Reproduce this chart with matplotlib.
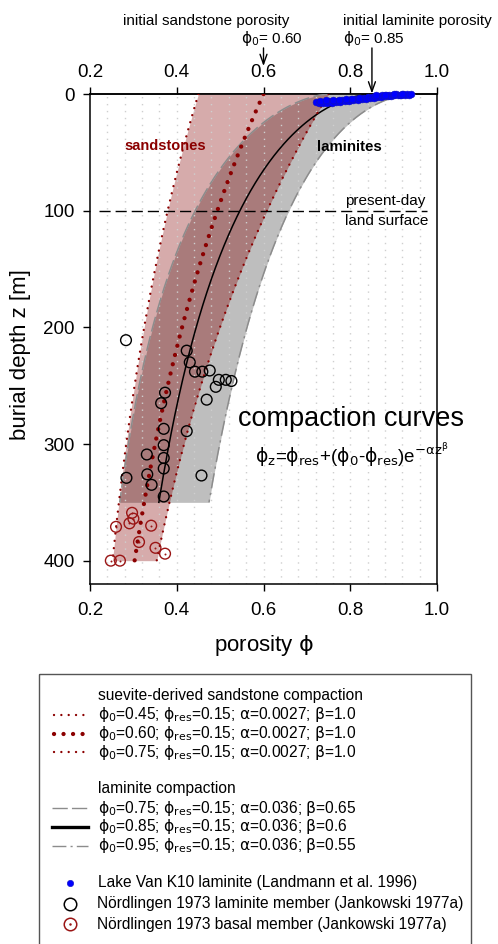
import numpy as np
import matplotlib
matplotlib.use('Agg')
import matplotlib.pyplot as plt
from matplotlib.lines import Line2D
from matplotlib.patches import Rectangle

plt.rcParams['font.family'] = ['Liberation Sans', 'DejaVu Sans']
plt.rcParams['mathtext.fontset'] = 'dejavusans'

# ---------------- data ----------------
# sandstone compaction curves
sand_phi0 = [0.45, 0.60, 0.75]
sand_phires = 0.15
sand_alpha = 0.0027
sand_beta = 1.0
sand_zmax = 400

# laminite compaction curves
lam_phi0 = [0.75, 0.85, 0.95]
lam_phires = 0.15
lam_alpha = 0.036
lam_beta = [0.65, 0.6, 0.55]
lam_zmax = 350

# Lake Van K10 laminite (Landmann et al. 1996)
van_phi = [0.722, 0.728, 0.733, 0.738, 0.742, 0.747, 0.752, 0.757, 0.762, 0.767,
           0.772, 0.777, 0.782, 0.787, 0.792, 0.797, 0.802, 0.807, 0.812, 0.817,
           0.822, 0.827, 0.832, 0.837, 0.842, 0.846, 0.850, 0.854, 0.858, 0.862,
           0.866, 0.870, 0.874, 0.878, 0.882, 0.886, 0.890, 0.894, 0.898, 0.902,
           0.906, 0.910, 0.914, 0.918, 0.922, 0.926, 0.930, 0.935, 0.940,
           0.730, 0.745, 0.760, 0.775, 0.790, 0.805, 0.820, 0.860, 0.880, 0.900, 0.920]
van_z = [7.0, 8.0, 6.5, 7.8, 6.8, 7.5, 6.2, 7.3, 6.0, 7.0,
         5.8, 6.6, 5.5, 6.3, 5.0, 5.8, 4.6, 5.4, 4.2, 5.0,
         3.8, 4.6, 3.4, 4.0, 2.8, 3.6, 2.4, 3.0, 1.8, 2.6,
         1.5, 2.2, 1.0, 1.9, 0.8, 1.6, 0.5, 1.4, 0.6, 1.2,
         0.3, 1.1, 0.5, 1.0, 0.2, 0.9, 0.4, 0.7, 0.3,
         5.6, 5.4, 5.0, 4.8, 4.4, 4.0, 3.2, 1.2, 0.6, 0.4, 0.1]

# Nördlingen 1973 laminite member (Jankowski 1977a)
nlam_phi = [0.283, 0.423, 0.430, 0.442, 0.459, 0.476, 0.497, 0.490, 0.513, 0.526,
            0.469, 0.373, 0.364, 0.370, 0.423, 0.331, 0.370, 0.370, 0.370, 0.284,
            0.332, 0.342, 0.457, 0.370]
nlam_z = [211, 220, 230, 238, 238, 237, 245, 251, 245, 246,
          262, 256, 265, 287, 289, 309, 301, 312, 321, 329,
          326, 335, 327, 345]

# Nördlingen 1973 basal member (Jankowski 1977a)
nbas_phi = [0.297, 0.300, 0.291, 0.260, 0.341, 0.313, 0.351, 0.373, 0.248, 0.269]
nbas_z = [359, 364, 368, 371, 370, 384, 389, 394, 400, 400]

xticks = [0.2, 0.4, 0.6, 0.8, 1.0]
yticks = [0, 100, 200, 300, 400]
present_day_z = 100

# ---------------- colors ----------------
DARKRED = '#8b0000'
RINGRED = '#9a1515'
PINK = '#d6abab'
GRAY = '#bebebe'
OVERLAP = '#a97b7b'
EDGEGRAY = '#8c8c8c'

W, H = 498, 944
fig = plt.figure(figsize=(W / 100, H / 100), dpi=100)
ax = fig.add_axes([90 / W, 1 - 584 / H, (437 - 90) / W, (584 - 94) / H])

zs = np.linspace(0, sand_zmax, 401)
zl = np.linspace(0, lam_zmax, 351)

def sand(p0, z):
    return sand_phires + (p0 - sand_phires) * np.exp(-sand_alpha * z ** sand_beta)

def lam(p0, b, z):
    return lam_phires + (p0 - lam_phires) * np.exp(-lam_alpha * z ** b)

s_curves = [sand(p, zs) for p in sand_phi0]
l_curves = [lam(p, b, zl) for p, b in zip(lam_phi0, lam_beta)]

# bands
ax.fill_betweenx(zs, s_curves[0], s_curves[2], color=PINK, lw=0, zorder=1)
ax.fill_betweenx(zl, l_curves[0], l_curves[2], color=GRAY, lw=0, zorder=1)
s_lo = sand(sand_phi0[0], zl)
s_hi = sand(sand_phi0[2], zl)
ov_lo = np.maximum(s_lo, l_curves[0])
ov_hi = np.minimum(s_hi, l_curves[2])
ax.fill_betweenx(zl, ov_lo, ov_hi, where=ov_lo < ov_hi, interpolate=True,
                 color=OVERLAP, lw=0, zorder=1.1)

# dotted grid
for gx in np.arange(0.24, 0.99, 0.04):
    ax.axvline(gx, color='#cfcfcf', lw=1.0, ls=(0, (1, 4)), zorder=2)

# laminite curves
ax.plot(l_curves[0], zl, color=EDGEGRAY, lw=1.1, ls=(0, (10, 3)), zorder=3)
ax.plot(l_curves[1], zl, color='black', lw=1.1, zorder=3)
ax.plot(l_curves[2], zl, color=EDGEGRAY, lw=1.1, ls=(0, (10, 3, 1.5, 3)), zorder=3)

# sandstone curves
ax.plot(s_curves[0], zs, color=DARKRED, lw=1.7, ls=(0, (0.01, 3.1)),
        dash_capstyle='round', zorder=3.2)
ax.plot(s_curves[1], zs, color=DARKRED, lw=3.1, ls=(0, (0.01, 2.2)),
        dash_capstyle='round', zorder=3.2)
ax.plot(s_curves[2], zs, color=DARKRED, lw=1.7, ls=(0, (0.01, 3.1)),
        dash_capstyle='round', zorder=3.2)

# present-day land surface
ax.plot([0.22, 0.977], [present_day_z, present_day_z], color='black', lw=1.0,
        ls=(0, (8, 3.6)), zorder=3.3)

# data points
ax.scatter(nlam_phi, nlam_z, s=60, facecolors='none', edgecolors='black', lw=1.0, zorder=5)
ax.scatter(nbas_phi, nbas_z, s=60, facecolors='none', edgecolors=RINGRED, lw=1.0, zorder=5)
ax.scatter(nbas_phi, nbas_z, s=2, color=RINGRED, lw=0, zorder=5)
ax.scatter(van_phi, van_z, s=24, color='#0000ff', edgecolors='#1010c0', lw=0.4, zorder=6,
           clip_on=False)

ax.set_xlim(0.2, 1.0)
ax.set_ylim(420, 0)
ax.set_xticks(xticks)
ax.set_xticklabels(['%.1f' % v for v in xticks])
ax.set_yticks(yticks)
ax.tick_params(axis='x', top=False, labeltop=False, bottom=True, labelbottom=True,
               direction='out', length=5, width=1.0, labelsize=13.5, pad=8)
ax.tick_params(axis='y', direction='out', length=5, width=1.0, labelsize=13.5, pad=6)
sec = ax.secondary_xaxis('top')
sec.set_xticks(xticks)
sec.set_xticklabels(['%.1f' % v for v in xticks])
sec.tick_params(direction='out', length=5, width=1.0, labelsize=13.5, pad=4)
sec.spines['top'].set_linewidth(1.1)
for sp in ax.spines.values():
    sp.set_linewidth(1.1)

# texts inside plot
ax.text(0.373, 44.5, 'sandstones', color=DARKRED, fontsize=10.5, fontweight='bold',
        ha='center', va='center', zorder=7)
ax.text(0.799, 45.3, 'laminites', color='black', fontsize=10.8, fontweight='bold',
        ha='center', va='center', zorder=7)
ax.text(0.789, 95.5, 'present-day', fontsize=11, ha='left', va='baseline', zorder=7)
ax.text(0.789, 112, 'land surface', fontsize=11, ha='left', va='baseline', zorder=7)
ax.text(0.541, 284.5, 'compaction curves', fontsize=19.5, ha='left', va='baseline', zorder=7)
ax.text(0.580, 316,
        r'$\mathrm{\phi_z}$=$\mathrm{\phi_{res}}$+($\mathrm{\phi_0}$-$\mathrm{\phi_{res}}$)e$^{\mathrm{-\alpha z^{\beta}}}$',
        fontsize=13.5, ha='left', va='baseline', zorder=7)

# arrows to top axis
xt = ax.get_xaxis_transform()
ax.annotate('', xy=(0.60, 1.057), xytext=(0.60, 1.094), xycoords=xt, textcoords=xt,
            arrowprops=dict(arrowstyle='->,head_length=0.7,head_width=0.25', lw=1.0,
                            color='black', shrinkA=0, shrinkB=0), annotation_clip=False)
ax.annotate('', xy=(0.85, 1.001), xytext=(0.85, 1.094), xycoords=xt, textcoords=xt,
            arrowprops=dict(arrowstyle='->,head_length=0.7,head_width=0.25', lw=1.0,
                            color='black', shrinkA=0, shrinkB=0), annotation_clip=False)

# overlay for outside texts & legend (pixel coordinates)
lax = fig.add_axes([0, 0, 1, 1], zorder=10)
lax.set_xlim(0, W)
lax.set_ylim(H, 0)
lax.axis('off')
lax.patch.set_alpha(0)

lax.text(123, 24.5, 'initial sandstone porosity', fontsize=11, ha='left', va='baseline')
lax.text(241, 42.5, r'$\mathrm{\phi_0}$= 0.60', fontsize=11, ha='left', va='baseline')
lax.text(343, 24.5, 'initial laminite porosity', fontsize=11, ha='left', va='baseline')
lax.text(343, 42.5, r'$\mathrm{\phi_0}$= 0.85', fontsize=11, ha='left', va='baseline')

lax.text(263.5, 651, r'porosity $\mathrm{\phi}$', fontsize=16, ha='center', va='baseline')
lax.text(21, 355, 'burial depth z [m]', fontsize=16, ha='center', va='center', rotation=90)

# legend
lax.add_patch(Rectangle((39, 674), 431.5, 290, fill=False, ec='#555555', lw=1.0))
LFS = 11.2
lax.text(97.7, 695.7, 'suevite-derived sandstone compaction', fontsize=LFS, ha='left', va='center')
sand_labels = [r'$\mathrm{\phi_0}$=%.2f; $\mathrm{\phi_{res}}$=%.2f; $\mathrm{\alpha}$=%s; $\mathrm{\beta}$=%.1f'
               % (p, sand_phires, '0.0027', sand_beta) for p in sand_phi0]
sand_styles = [dict(lw=1.7, ls=(0, (0.01, 3.1))), dict(lw=3.1, ls=(0, (0.01, 2.2))),
               dict(lw=1.7, ls=(0, (0.01, 3.1)))]
for y, lab, st in zip([715, 733.5, 752], sand_labels, sand_styles):
    lax.add_line(Line2D([54, 87], [y, y], color=DARKRED, dash_capstyle='round', **st))
    lax.text(97.7, y, lab, fontsize=LFS, ha='left', va='center')

lax.text(97.7, 789, 'laminite compaction', fontsize=LFS, ha='left', va='center')
lam_labels = [r'$\mathrm{\phi_0}$=%.2f; $\mathrm{\phi_{res}}$=%.2f; $\mathrm{\alpha}$=%s; $\mathrm{\beta}$=%s'
              % (p, lam_phires, '0.036', ('%g' % b)) for p, b in zip(lam_phi0, lam_beta)]
lam_styles = [dict(color=EDGEGRAY, lw=1.0, ls=(0, (11, 3))),
              dict(color='black', lw=2.4, ls='-'),
              dict(color=EDGEGRAY, lw=1.0, ls=(0, (10, 3, 1.5, 3)))]
for y, lab, st in zip([808, 827, 845.5], lam_labels, lam_styles):
    lax.add_line(Line2D([52, 88], [y, y], **st))
    lax.text(97.7, y, lab, fontsize=LFS, ha='left', va='center')

lax.plot([70], [882.7], 'o', ms=4.6, color='#0000ff', mec='#1010c0', mew=0.4)
lax.text(97.7, 882.7, 'Lake Van K10 laminite (Landmann et al. 1996)', fontsize=LFS, ha='left', va='center')
lax.plot([70], [903.7], 'o', ms=9, mfc='none', mec='black', mew=1.1)
lax.text(96.7, 903.7, 'Nördlingen 1973 laminite member (Jankowski 1977a)', fontsize=LFS, ha='left', va='center')
lax.plot([70], [924], 'o', ms=9, mfc='none', mec=RINGRED, mew=1.1)
lax.plot([70], [924], 'o', ms=1.8, color=RINGRED, mew=0)
lax.text(96.7, 924, 'Nördlingen 1973 basal member (Jankowski 1977a)', fontsize=LFS, ha='left', va='center')

fig.savefig('out.png', dpi=100)
